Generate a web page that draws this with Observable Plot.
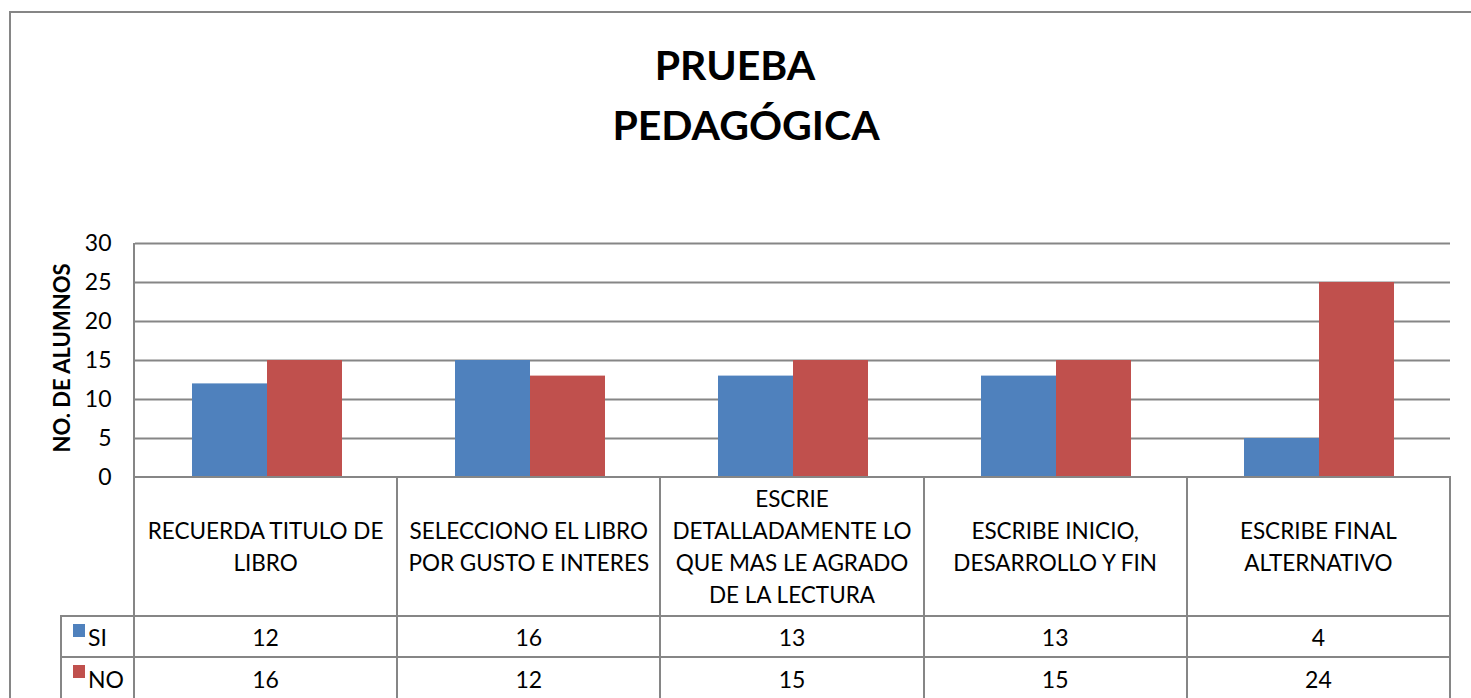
<!DOCTYPE html>
<html>
<head>
<meta charset="utf-8">
<script src="https://cdn.jsdelivr.net/npm/d3@7"></script>
<script src="https://cdn.jsdelivr.net/npm/@observablehq/plot@0.6"></script>
<style>
  body { margin: 0; background: #fff; font-family: Lato, "Open Sans", sans-serif; color: #000; overflow: hidden; }
  #wrap { position: relative; width: 1471px; height: 698px; overflow: hidden; background: #fff; }
  .frame { position: absolute; left: 9px; top: 11px; width: 1500px; height: 800px; border-left: 2px solid #868686; border-top: 2px solid #868686; box-sizing: border-box; }
  .title { position: absolute; font-weight: 700; font-size: 41px; line-height: 41px; white-space: nowrap; transform: translateX(-50%); }
  .ytitle { position: absolute; font-weight: 700; font-size: 22px; line-height: 22px; white-space: nowrap; transform: translate(-50%, -50%) rotate(-90deg); }
  #chart { position: absolute; left: 0; top: 230px; }
  .cell { position: absolute; box-sizing: border-box; border-left: 2px solid #868686; border-top: 2px solid #868686; display: flex; align-items: center; justify-content: center; text-align: center; white-space: pre-line; }
  .cat { font-size: 22.5px; line-height: 32px; }
  .num { font-size: 23px; }
  .leg { justify-content: flex-start; font-size: 23px; }
  .key { position: absolute; left: 11px; top: 7px; width: 12px; height: 13px; }
  .legtext { position: absolute; left: 26px; top: 50%; transform: translateY(-50%); }
  .vline { position: absolute; background: #868686; }
</style>
</head>
<body>
<div id="wrap">
  <div class="frame"></div>
  <div class="title" id="t1" style="left:735px; top:44px;"></div>
  <div class="title" id="t2" style="left:746px; top:104px;"></div>
  <div class="ytitle" id="yt" style="left:62px; top:358px;"></div>
  <div id="chart"></div>
  <div class="vline" style="left:133px; top:243px; width:2px; height:235px;"></div>
  <div id="table"></div>
</div>
<script>
// ---- data ----
const titleLines = ["PRUEBA", "PEDAGÓGICA"];
const yTitle = "NO. DE ALUMNOS";
const categories = [
  "RECUERDA TITULO DE\nLIBRO",
  "SELECCIONO EL LIBRO\nPOR GUSTO E INTERES",
  "ESCRIE\nDETALLADAMENTE LO\nQUE MAS LE AGRADO\nDE LA LECTURA",
  "ESCRIBE INICIO,\nDESARROLLO Y FIN",
  "ESCRIBE FINAL\nALTERNATIVO"
];
const series = ["SI", "NO"];
const colors = ["#4F81BD", "#C0504D"];
// bar heights as drawn in the chart
const siBars = [12, 15, 13, 13, 5];
const noBars = [15, 13, 15, 15, 25];
// values printed in the data table
const siTable = [12, 16, 13, 13, 4];
const noTable = [16, 12, 15, 15, 24];
const yTicks = [0, 5, 10, 15, 20, 25, 30];

// ---- texts ----
document.getElementById("t1").textContent = titleLines[0];
document.getElementById("t2").textContent = titleLines[1];
document.getElementById("yt").textContent = yTitle;

// ---- chart ----
const rows = [];
categories.forEach((c, i) => {
  rows.push({cat: c, serie: series[0], value: siBars[i]});
  rows.push({cat: c, serie: series[1], value: noBars[i]});
});

const chart = Plot.plot({
  width: 1471,
  height: 248,
  marginLeft: 134,
  marginRight: 21,
  marginTop: 13,
  marginBottom: 1,
  facet: {data: rows, x: "cat"},
  fx: {domain: categories, padding: 0, axis: null},
  x: {domain: series, paddingInner: 0, paddingOuter: 0.74, axis: null},
  y: {domain: [0, 30], ticks: yTicks, tickSize: 0, tickPadding: 24, label: null},
  color: {domain: series, range: colors},
  style: {fontSize: "23px", fontFamily: "Lato, sans-serif", color: "#000", background: "transparent", overflow: "visible"},
  marks: [
    Plot.ruleY(yTicks.slice(1), {stroke: "#868686", strokeWidth: 2}),
    Plot.barY(rows, {x: "serie", y: "value", fill: "serie"})
  ]
});
document.getElementById("chart").appendChild(chart);

// ---- data table ----
const table = document.getElementById("table");
const x0 = 133, colW = 263.2, top0 = 476, catH = 139, rowH = 41, lastH = 43;
function cell(cls, left, top, w, h, text) {
  const d = document.createElement("div");
  d.className = "cell " + cls;
  d.style.left = left + "px"; d.style.top = top + "px";
  d.style.width = w + "px"; d.style.height = h + "px";
  if (text !== undefined) d.textContent = text;
  table.appendChild(d);
  return d;
}
const tableVals = [siTable, noTable];
categories.forEach((c, i) => {
  const left = x0 + i * colW;
  const w = (i === categories.length - 1) ? colW + 2 : colW;
  const cc = cell("cat", left, top0, w, catH, c);
  const r1 = cell("num", left, top0 + catH, w, rowH, String(tableVals[0][i]));
  const r2 = cell("num", left, top0 + catH + rowH, w, lastH, String(tableVals[1][i]));
  if (i === categories.length - 1) {
    [cc, r1, r2].forEach(d => d.style.borderRight = "2px solid #868686");
  }
});
series.forEach((s, k) => {
  const d = cell("leg", 60, top0 + catH + k * rowH, 75, k === 0 ? rowH : lastH);
  const key = document.createElement("div");
  key.className = "key"; key.style.background = colors[k];
  const t = document.createElement("div");
  t.className = "legtext"; t.textContent = s;
  d.appendChild(key); d.appendChild(t);
});
</script>
</body>
</html>
